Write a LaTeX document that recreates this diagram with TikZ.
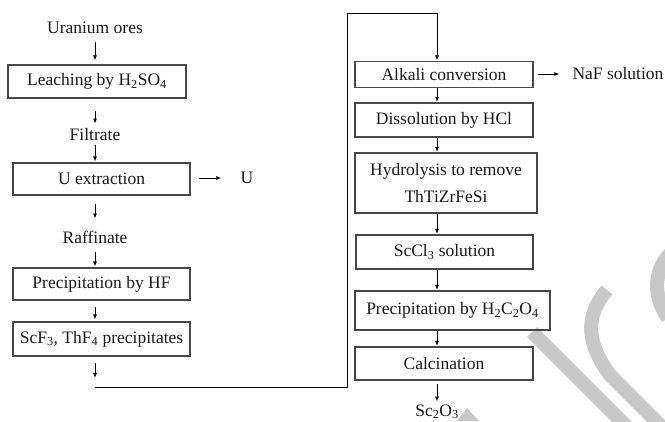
\documentclass[tikz,border=0pt]{standalone}
\usepackage{fontspec}
\setmainfont{Liberation Serif}
\usetikzlibrary{arrows.meta}
\definecolor{wm}{RGB}{200,200,200}
\definecolor{ink}{RGB}{25,25,30}
\begin{document}
\begin{tikzpicture}[x=1pt,y=-1pt,
  every node/.style={font=\fontsize{17.5}{27}\selectfont, text=ink, inner sep=0pt},
  box/.style={draw=black!72, line width=1.2pt, align=center},
  arr/.style={draw=black, line width=0.9pt, -{Latex[length=5pt,width=4pt]}},
  wmline/.style={draw=wm, line width=14pt}]
\path[use as bounding box, fill=white] (0,0) rectangle (665,421);
% watermark
\begin{scope}
\clip (0,0) rectangle (665,421);
\draw[wmline] (532,332) -- (650,450);
\draw[wmline] (607,290) .. controls (583,318) and (588,345) .. (610,375) -- (665,430);
\draw[wmline] (672,252) .. controls (654,268) and (652,296) .. (668,318);
\fill[wm] (467,408) -- (457,421) -- (479,421) -- cycle;
\end{scope}
% column x positions
\coordinate (lc) at (95,0);
\coordinate (rc) at (437,0);
% left column
\node (ur) at (95,28) {Uranium ores};
\node[box, minimum width=178pt, minimum height=33pt] (lea) at (97,81.5) {Leaching by H\textsubscript{2}SO\textsubscript{4}};
\node (fil) at (95,135) {Filtrate};
\node[box, minimum width=177pt, minimum height=32pt] (uex) at (101.5,179) {U extraction};
\node (u) at (247,178) {U};
\node (raf) at (95,237) {Raffinate};
\node[box, minimum width=177pt, minimum height=32pt] (phf) at (101.5,284) {Precipitation by HF};
\node[box, minimum width=177pt, minimum height=34pt] (scf) at (101.5,339) {ScF\textsubscript{3}, ThF\textsubscript{4} precipitates};
% right column
\node[box, minimum width=178pt, minimum height=26pt] (alk) at (444,74.5) {Alkali conversion};
\node (naf) at (618,74) {NaF solution};
\node[box, minimum width=178pt, minimum height=34pt] (dis) at (444,120) {Dissolution by HCl};
\node[box, minimum width=182pt, minimum height=60pt] (hyd) at (446,183) {Hydrolysis to remove\\ThTiZrFeSi};
\node[box, minimum width=177pt, minimum height=34pt] (scc) at (444.5,252) {ScCl\textsubscript{3} solution};
\node[box, minimum width=195pt, minimum height=39pt] (ph2) at (452.5,310.5) {Precipitation by H\textsubscript{2}C\textsubscript{2}O\textsubscript{4}};
\node[box, minimum width=178pt, minimum height=33pt] (cal) at (444,363.5) {Calcination};
\node[anchor=north] (sc2) at (437,404.5) {Sc\textsubscript{2}O\textsubscript{3}};
% return-path coordinates
\coordinate (c1) at (95,387);
\coordinate (c3) at (347,13);
% left arrows
\draw[arr, shorten <=8pt, shorten >=4pt] (ur.south -| lc) -- (lea.north -| lc);
\draw[arr, shorten <=12pt, shorten >=5pt] (lea.south -| lc) -- (fil.north -| lc);
\draw[arr, shorten <=4pt, shorten >=1pt] (fil.south -| lc) -- (uex.north -| lc);
\draw[arr, shorten <=8pt, shorten >=19pt] (uex.east |- u) -- (u.west);
\draw[arr, shorten <=8pt, shorten >=12pt] (uex.south -| lc) -- (raf.north -| lc);
\draw[arr, shorten <=9pt, shorten >=1pt] (raf.south -| lc) -- (phf.north -| lc);
\draw[arr, shorten <=6pt, shorten >=2pt] (phf.south -| lc) -- (scf.north -| lc);
\draw[arr, shorten <=6pt, shorten >=9pt] (scf.south -| lc) -- (c1);
\draw[arr, shorten >=0.5pt] (c1) -| (c3) -| (alk.north -| rc);
% right arrows
\draw[arr, shorten <=4pt, shorten >=13pt] (alk.east |- naf) -- (naf.west);
\draw[arr, shorten >=0.5pt] (alk.south -| rc) -- (dis.north -| rc);
\draw[arr, shorten >=0.5pt] (dis.south -| rc) -- (hyd.north -| rc);
\draw[arr, shorten >=0.5pt] (hyd.south -| rc) -- (scc.north -| rc);
\draw[arr, shorten >=0.5pt] (scc.south -| rc) -- (ph2.north -| rc);
\draw[arr, shorten >=0.5pt] (ph2.south -| rc) -- (cal.north -| rc);
\draw[arr, shorten <=3pt, shorten >=3pt] (cal.south -| rc) -- (sc2.north -| rc);
\end{tikzpicture}
\end{document}
